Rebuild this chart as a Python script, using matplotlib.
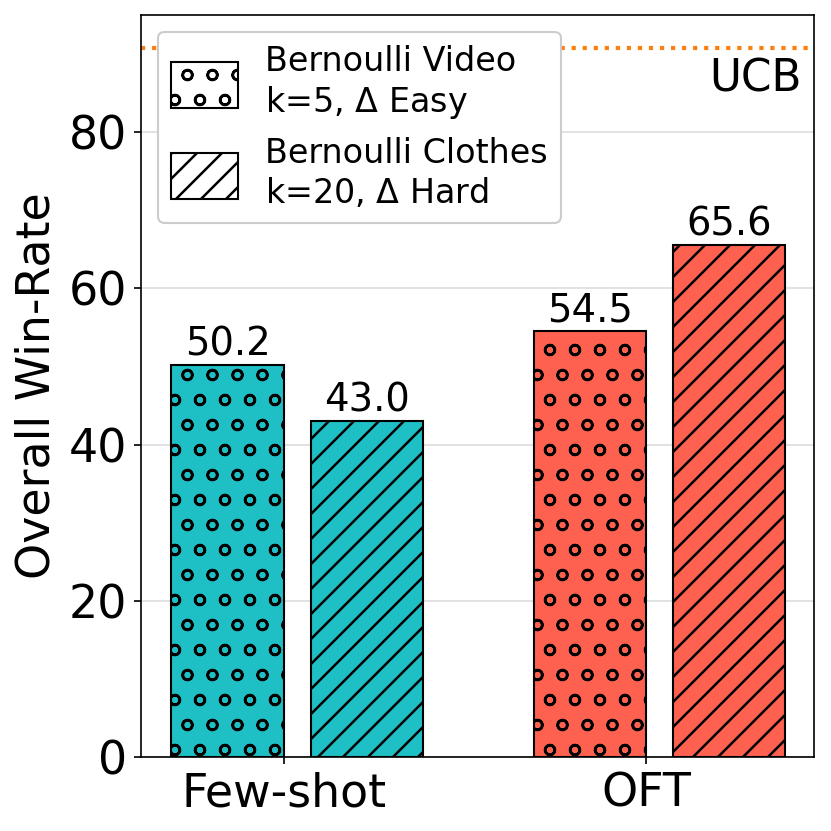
import numpy as np
import matplotlib
matplotlib.use("Agg")
import matplotlib.pyplot as plt
from matplotlib.patches import Patch

methods = ["Few-shot", "OFT"]
video_vals = [50.2, 54.5]
clothes_vals = [43.0, 65.6]
ucb_val = 90.8
colors = ["#1fbfc6", "#ff6150"]
legend_labels = ["Bernoulli Video\nk=5, $\\Delta$ Easy", "Bernoulli Clothes\nk=20, $\\Delta$ Hard"]

plt.rcParams["hatch.linewidth"] = 1.2

fig, ax = plt.subplots(figsize=(5.54, 5.54), dpi=150)
x = np.arange(len(methods))
w = 0.31

b1 = ax.bar(x - 0.155, video_vals, w, color=colors, edgecolor="black",
            linewidth=1.0, hatch="o", zorder=3)
b2 = ax.bar(x + 0.23, clothes_vals, w, color=colors, edgecolor="black",
            linewidth=1.0, hatch="//", zorder=3)

for bars, vals in [(b1, video_vals), (b2, clothes_vals)]:
    for r, v in zip(bars, vals):
        ax.text(r.get_x() + r.get_width() / 2, v + 0.2, f"{v:.1f}",
                ha="center", va="bottom", fontsize=18.5)

ax.axhline(ucb_val, color="tab:orange", linestyle=":", linewidth=2, zorder=2)
ax.text(1.43, ucb_val - 1.2, "UCB", ha="right", va="top", fontsize=21)

ax.set_xlim(-0.393, 1.465)
ax.set_ylim(0, 95)
ax.set_xticks(x)
ax.set_xticklabels(methods, fontsize=22)
ax.tick_params(axis="y", labelsize=22)
ax.set_ylabel("Overall Win-Rate", fontsize=22)
ax.yaxis.grid(True, color="#dddddd", linewidth=0.8, zorder=0)

handles = [Patch(facecolor="white", edgecolor="black", hatch="o", label=legend_labels[0]),
           Patch(facecolor="white", edgecolor="black", hatch="//", label=legend_labels[1])]
ax.legend(handles=handles, loc="upper left", fontsize=16, handlelength=2.0,
          handleheight=1.75, framealpha=1)

fig.subplots_adjust(left=0.17, right=0.98, top=0.982, bottom=0.089)
fig.savefig("out.png", dpi=150)
